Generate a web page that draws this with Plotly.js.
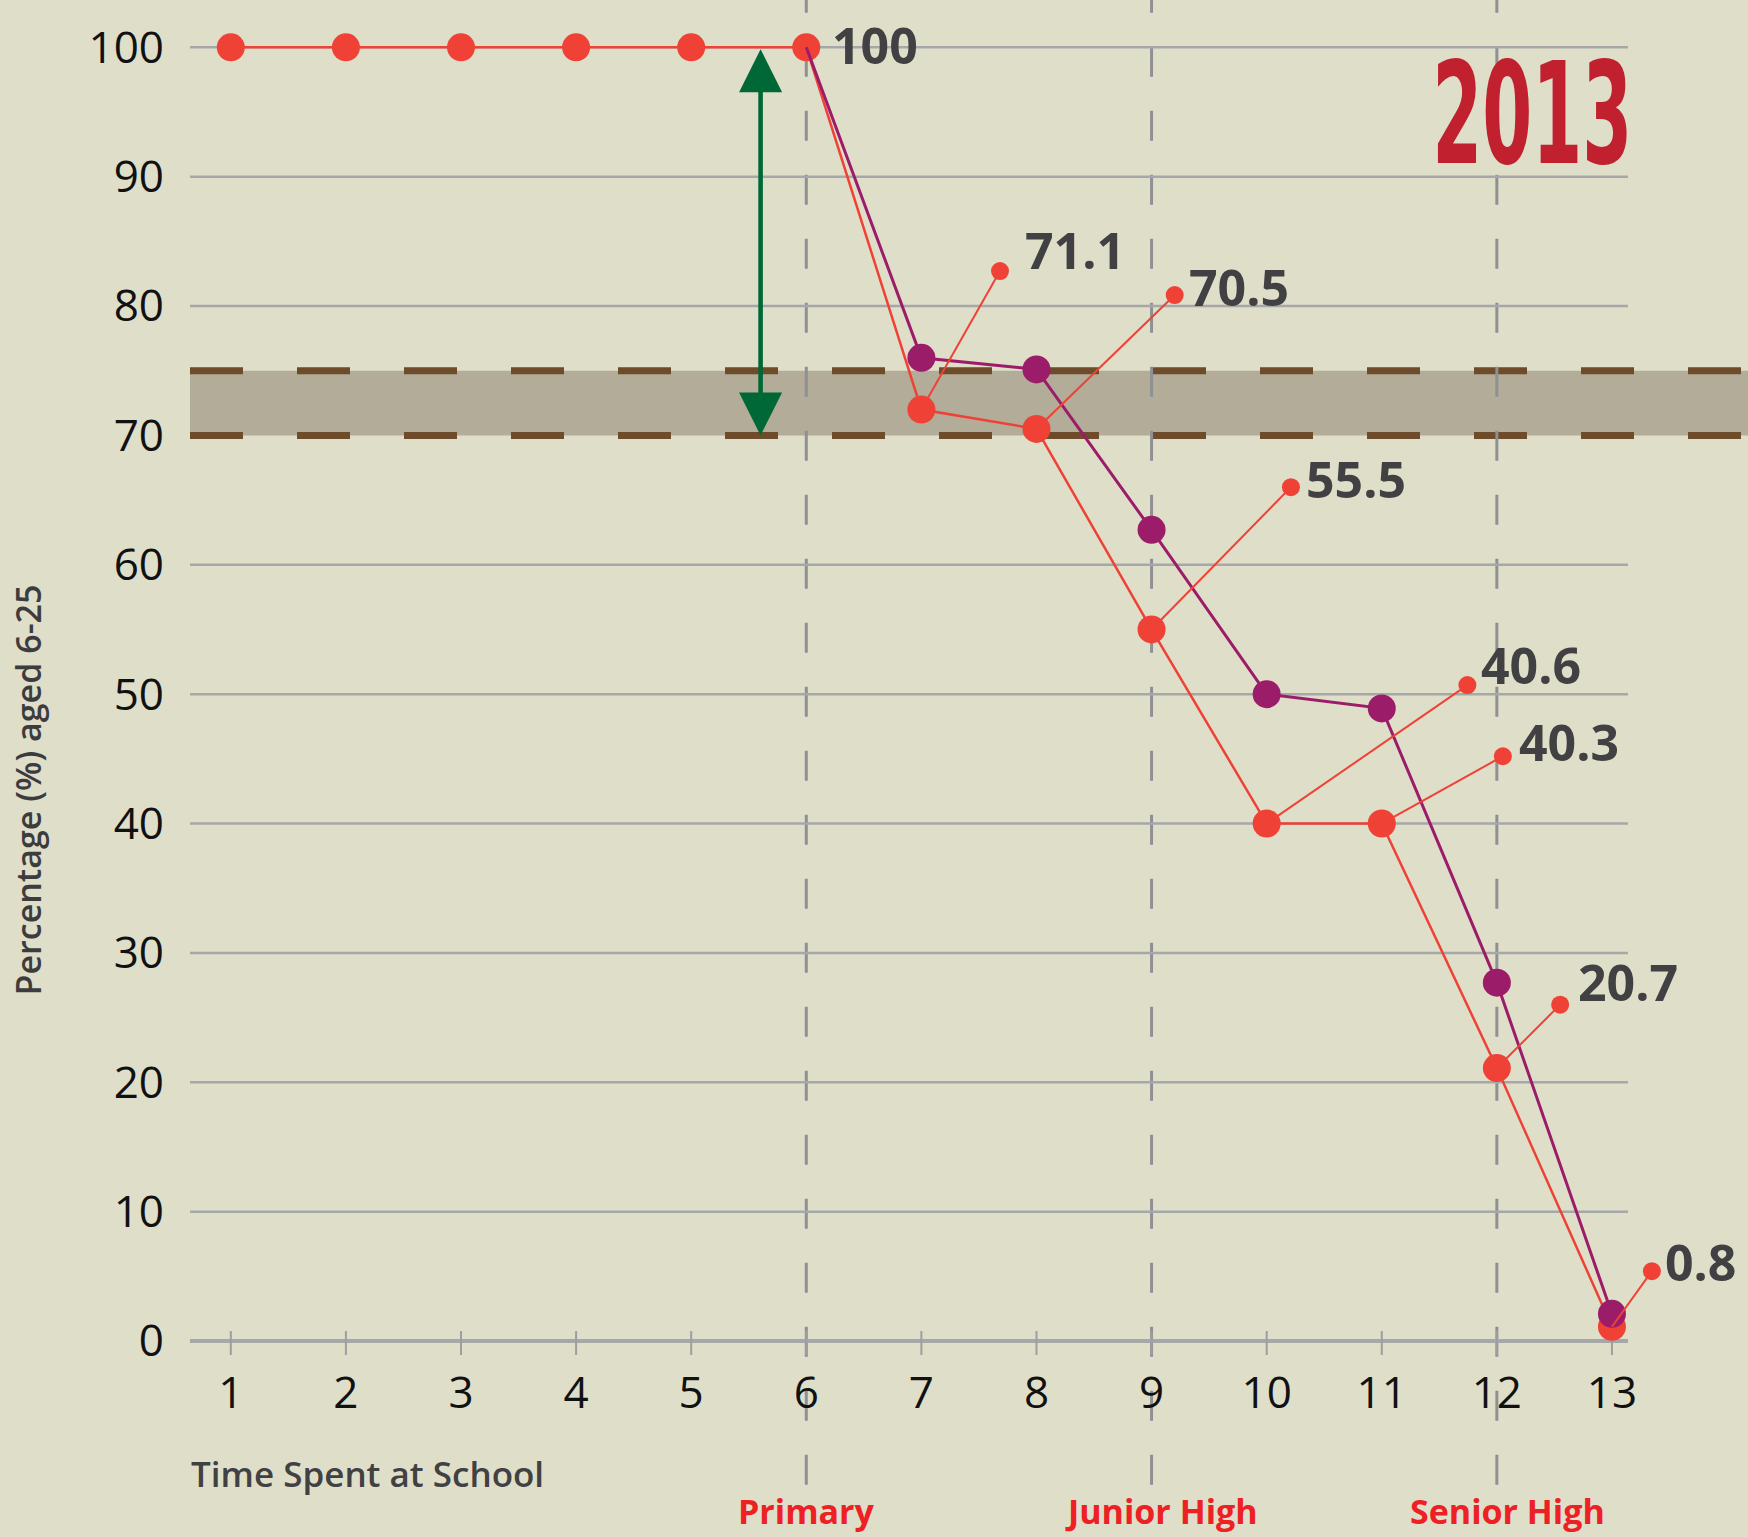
<!DOCTYPE html>
<html>
<head>
<meta charset="utf-8">
<script src="https://cdn.plot.ly/plotly-3.0.1.min.js"></script>
<style>
  html, body { margin: 0; padding: 0; background: #dfdec9; }
  #chart { width: 1748px; height: 1537px; }
</style>
</head>
<body>
<div id="chart"></div>
<script>
// ---------------- DATA ----------------
const schoolYears   = [1, 2, 3, 4, 5, 6, 7, 8, 9, 10, 11, 12, 13];
const mainPct       = [100, 100, 100, 100, 100, 100, 72.0, 70.5, 55.0, 40.0, 40.0, 21.1, 1.1];
const compareYears  = [6, 7, 8, 9, 10, 11, 12, 13];
const comparePct    = [100, 76.0, 75.1, 62.7, 50.0, 48.9, 27.7, 2.1];
const labelYears    = [6, 7, 8, 9, 10, 11, 12, 13];
const labelTexts    = ['100', '71.1', '70.5', '55.5', '40.6', '40.3', '20.7', '0.8'];
const stageNames    = ['Primary', 'Junior High', 'Senior High'];
const stageYears    = [6, 9, 12];
const yTicks        = [0, 10, 20, 30, 40, 50, 60, 70, 80, 90, 100];
const targetBand    = [70, 75];
const yearTitle     = '2013';
const yAxisTitle    = 'Percentage (%) aged 6-25';
const xAxisTitle    = 'Time Spent at School';

// ---------------- GEOMETRY / STYLE ----------------
const X_RANGE = [0.6455, 14.182];
const Y_RANGE = [-1.469, 103.656];
const GRID_END = 13.139;
// callout dot positions (label leaders), null = no leader
const calloutX = [null, 7.683, 9.201, 10.211, 11.744, 12.052, 12.55, 13.347];
const calloutY = [null, 82.7, 80.85, 66.0, 50.7, 45.2, 26.0, 5.4];
const labelXShift = [24, 23, 12, 13, 11.5, 14, 16, 11];
const labelYShift = [2, 21, 8, 8, 20, 14, 23, 9];

const RED = '#ef4136';
const PURPLE = '#9b1c68';
const GRID = '#a6a7a9';

// ---------------- TRACES ----------------
const leaderX = [], leaderY = [], dotX = [], dotY = [];
labelYears.forEach((yr, i) => {
  if (calloutX[i] === null) return;
  leaderX.push(yr, calloutX[i], null);
  leaderY.push(mainPct[schoolYears.indexOf(yr)], calloutY[i], null);
  dotX.push(calloutX[i]);
  dotY.push(calloutY[i]);
});
// comparison series starts from the main series' point, which keeps its red marker
const compareMarkerSize = compareYears.map((yr, i) => i === 0 ? 0 : 28);

const data = [
  {
    x: schoolYears, y: mainPct, type: 'scatter', mode: 'lines+markers',
    name: 'Main', cliponaxis: false,
    line: { color: RED, width: 2.5 },
    marker: { color: RED, size: 28, opacity: 1, line: { width: 0 } }
  },
  {
    x: compareYears, y: comparePct, type: 'scatter', mode: 'lines+markers',
    name: 'Comparison', cliponaxis: false,
    line: { color: PURPLE, width: 3 },
    marker: { color: PURPLE, size: compareMarkerSize, opacity: 1, line: { width: 0 } }
  },
  {
    x: leaderX, y: leaderY, type: 'scatter', mode: 'lines',
    cliponaxis: false, connectgaps: false,
    line: { color: RED, width: 2 }, hoverinfo: 'skip'
  },
  {
    x: dotX, y: dotY, type: 'scatter', mode: 'markers',
    cliponaxis: false,
    marker: { color: RED, size: 18, opacity: 1, line: { width: 0 } }, hoverinfo: 'skip'
  }
];

// ---------------- SHAPES ----------------
const shapes = [];
shapes.push({ type: 'rect', xref: 'paper', yref: 'y', x0: 0, x1: 1,
  y0: targetBand[0], y1: targetBand[1], fillcolor: '#b2ac99', line: { width: 0 }, layer: 'below' });
targetBand.forEach(v => shapes.push({ type: 'line', xref: 'paper', yref: 'y', x0: 0, x1: 1,
  y0: v, y1: v, line: { color: '#6e4b2b', width: 7, dash: '53px,54px' }, layer: 'below' }));
stageYears.forEach(v => shapes.push({ type: 'line', xref: 'x', yref: 'paper', x0: v, x1: v,
  y0: 1.0127, y1: -0.0934, line: { color: '#8e9093', width: 3, dash: '30px,34px' }, layer: 'below' }));
yTicks.forEach(v => {
  if (v === targetBand[0]) return;
  shapes.push({ type: 'line', xref: 'x', yref: 'y', x0: X_RANGE[0], x1: GRID_END, y0: v, y1: v,
    line: { color: GRID, width: v === 0 ? 4 : 2.5 }, layer: 'below' });
});
schoolYears.forEach(v => shapes.push({ type: 'line', xref: 'x', yref: 'y', x0: v, x1: v,
  y0: -1.08, y1: 0.77, line: { color: '#9d9ea1', width: 2 }, layer: 'below' }));

// ---------------- ANNOTATIONS ----------------
const annotations = [];
labelYears.forEach((yr, i) => {
  const ax = calloutX[i] === null ? yr : calloutX[i];
  const ay = calloutY[i] === null ? mainPct[schoolYears.indexOf(yr)] : calloutY[i];
  annotations.push({ x: ax, y: ay, xref: 'x', yref: 'y', text: labelTexts[i], showarrow: false,
    xanchor: 'left', yanchor: 'middle', xshift: labelXShift[i], yshift: labelYShift[i],
    font: { family: 'Open Sans', size: 50, weight: 700, color: '#414042' } });
});
annotations.push({ x: 5.603, y: targetBand[0], xref: 'x', yref: 'y',
  ax: 5.603, ay: 100, axref: 'x', ayref: 'y', text: ' ', font: { size: 1 },
  showarrow: true, arrowside: 'end+start', arrowhead: 2, startarrowhead: 2,
  arrowsize: 1.87, startarrowsize: 1.87, arrowwidth: 4.6, arrowcolor: '#006837',
  standoff: 0, startstandoff: 0 });
annotations.push({ x: -0.1043, y: 42.6, xref: 'paper', yref: 'y', text: yAxisTitle, textangle: -90,
  showarrow: false, xanchor: 'center', yanchor: 'middle',
  font: { family: 'Open Sans', size: 34, weight: 600, color: '#3c3c3e' } });
annotations.push({ x: 0, y: -0.0831, xref: 'paper', yref: 'paper', text: xAxisTitle,
  showarrow: false, xanchor: 'left', yanchor: 'middle', xshift: -1,
  font: { family: 'Open Sans', size: 35, weight: 600, color: '#414042' } });
const stageShift = [0, 10, 11];
stageNames.forEach((s, i) => annotations.push({ x: stageYears[i], y: 0, xref: 'x', yref: 'paper',
  text: s, showarrow: false, xanchor: 'center', yanchor: 'bottom', yshift: -176, xshift: stageShift[i],
  font: { family: 'Open Sans', size: 34, weight: 700, color: '#ed2024' } }));
annotations.push({ x: 12.313, y: 94.8, xref: 'x', yref: 'y', text: yearTitle, showarrow: false,
  xanchor: 'center', yanchor: 'middle',
  font: { family: 'Liberation Sans Narrow, DejaVu Sans Condensed, DejaVu Sans', size: 140, weight: 700, color: '#c1202f' } });

const layout = {
  width: 1748, height: 1537,
  margin: { l: 190, r: 0, t: 0, b: 177, pad: 0 },
  paper_bgcolor: '#dfdec9',
  plot_bgcolor: 'rgba(0,0,0,0)',
  showlegend: false,
  xaxis: {
    range: X_RANGE, tickvals: schoolYears, ticktext: schoolYears.map(String),
    showgrid: false, zeroline: false, showline: false, ticks: '',
    ticklabelstandoff: 3,
    tickfont: { family: 'Open Sans', size: 44, color: '#111111' }
  },
  yaxis: {
    range: Y_RANGE, tickvals: yTicks, ticktext: yTicks.map(String),
    showgrid: false, zeroline: false, showline: false, ticks: '',
    ticklabelstandoff: 25,
    tickfont: { family: 'Open Sans', size: 44, color: '#111111' }
  },
  shapes: shapes,
  annotations: annotations
};

Plotly.newPlot('chart', data, layout, { staticPlot: true, displayModeBar: false }).then(gd => {
  gd.querySelectorAll('.annotation-text').forEach(t => {
    if (t.textContent === yearTitle) {
      const bb = t.getBBox();
      const sx = 200 / bb.width;
      const cx = bb.x + bb.width / 2, cy = bb.y + bb.height / 2;
      const prev = t.getAttribute('transform') || '';
      t.setAttribute('transform', prev + ` translate(${cx},${cy}) scale(${sx},1) translate(${-cx},${-cy})`);
    }
  });
});
</script>
</body>
</html>
